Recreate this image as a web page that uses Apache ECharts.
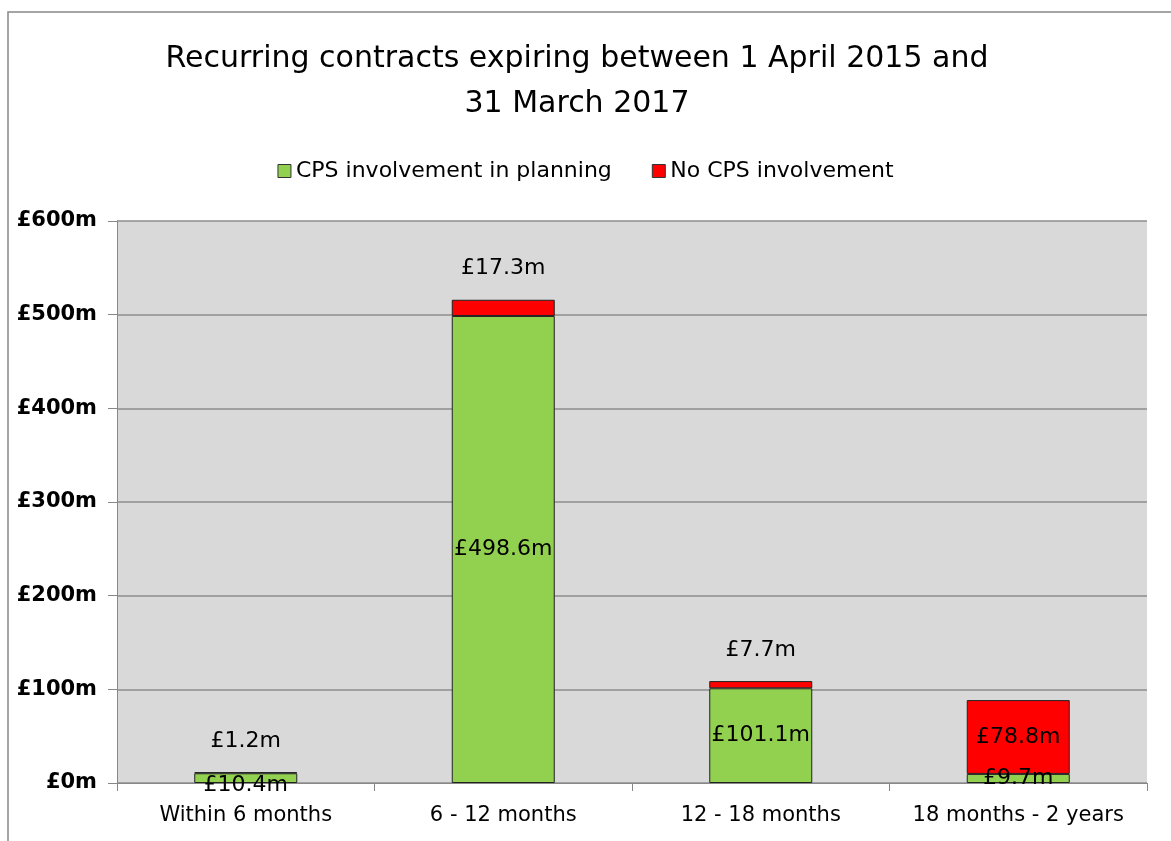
<!DOCTYPE html>
<html><head><meta charset="utf-8">
<script src="https://cdn.jsdelivr.net/npm/echarts@6/dist/echarts.min.js"></script>
<style>html,body{margin:0;padding:0;background:#fff}#c{width:1171px;height:841px}</style>
</head><body><div id="c"></div>
<script>
const categories = ['Within 6 months', '6 - 12 months', '12 - 18 months', '18 months - 2 years'];
const cpsInvolvement = [10.4, 498.6, 101.1, 9.7];
const noCpsInvolvement = [1.2, 17.3, 7.7, 78.8];
const yTicks = [0, 100, 200, 300, 400, 500, 600];
const redLabelPos = ['top', 'top', 'top', 'inside'];

const FONT = 'DejaVu Sans';
const chart = echarts.init(document.getElementById('c'));
chart.setOption({
  animation: false,
  backgroundColor: '#fff',
  textStyle: { fontFamily: FONT },
  graphic: [{ type: 'rect', shape: { x: 8, y: 12, width: 1200, height: 900 }, style: { fill: 'none', stroke: '#888', lineWidth: 1.5 }, z: -1 }],
  title: {
    text: 'Recurring contracts expiring between 1 April 2015 and\n31 March 2017',
    left: 572, top: 32, textAlign: 'center',
    textStyle: { fontFamily: FONT, fontSize: 30, fontWeight: 'normal', color: '#000', lineHeight: 45 }
  },
  legend: {
    top: 155, left: 'center', itemGap: 40, itemWidth: 13, itemHeight: 13, icon: 'rect',
    textStyle: { fontFamily: FONT, fontSize: 22, color: '#000' },
    data: [
      { name: 'CPS involvement in planning', itemStyle: { borderColor: '#333', borderWidth: 1 } },
      { name: 'No CPS involvement', itemStyle: { borderColor: '#333', borderWidth: 1 } }
    ]
  },
  grid: { left: 117, right: 24, top: 221, bottom: 58, backgroundColor: '#d9d9d9', show: true, borderWidth: 0 },
  xAxis: {
    type: 'category', data: categories,
    axisLine: { lineStyle: { color: '#888' } },
    axisTick: { show: true, interval: 0, length: 8, lineStyle: { color: '#888' } },
    axisLabel: { interval: 0, fontFamily: FONT, fontSize: 21, color: '#000', margin: 22 }
  },
  yAxis: {
    type: 'value', min: 0, max: 600, interval: 100,
    axisLine: { show: true, lineStyle: { color: '#888' } },
    axisTick: { show: true, length: 9, lineStyle: { color: '#888' } },
    splitLine: { lineStyle: { color: '#8c8c8c', width: 1.5 } },
    axisLabel: { fontFamily: FONT, fontSize: 21, fontWeight: 'bold', color: '#000', margin: 20,
      formatter: v => yTicks.includes(v) ? '£' + v + 'm' : '' }
  },
  series: [
    {
      name: 'CPS involvement in planning', type: 'bar', stack: 's', barWidth: 103,
      data: cpsInvolvement.map((v, i) => ({ value: v, label: { offset: i === 0 ? [0, 7] : [0, 0] } })),
      itemStyle: { color: '#92d050', borderColor: '#222', borderWidth: 1 },
      label: { show: true, position: 'inside', fontFamily: FONT, fontSize: 22, color: '#000', formatter: p => '£' + p.value + 'm' }
    },
    {
      name: 'No CPS involvement', type: 'bar', stack: 's', barWidth: 103,
      data: noCpsInvolvement.map((v, i) => ({ value: v, label: { position: redLabelPos[i], distance: 20 } })),
      itemStyle: { color: '#ff0000', borderColor: '#222', borderWidth: 1 },
      label: { show: true, fontFamily: FONT, fontSize: 22, color: '#000', formatter: p => '£' + p.value + 'm' }
    }
  ]
});
</script></body></html>
